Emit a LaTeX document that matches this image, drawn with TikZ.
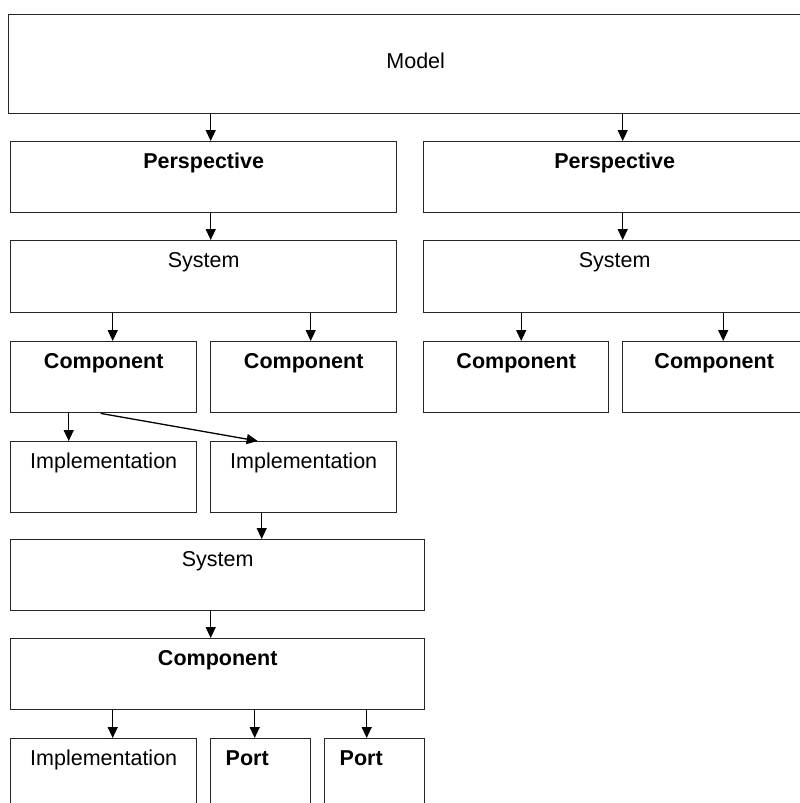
\documentclass[tikz,border=0pt]{standalone}
\usepackage{fontspec}
\setmainfont{Liberation Sans}
\usepackage{tikz}
\usetikzlibrary{arrows.meta,positioning,calc}

\begin{document}
\begin{tikzpicture}[x=1pt,y=-1pt,
                unit/.style={draw=black!85,line width=1.4pt,inner sep=0pt,anchor=north west,
                             align=center,font=\fontsize{21.5}{26}\selectfont,text height=27pt,text depth=44pt},
                arr/.style={-{Triangle[length=11pt,width=10pt]},line width=1.3pt}
            ]
                \useasboundingbox (0,0) rectangle (800,803);
                \clip (0,0) rectangle (800,803);
                % top level
                \node[unit,text width=814pt,text height=54pt,text depth=45pt] (model) at (8,14) {Model};
                \node[unit,text width=386pt] (pl) at (10,141) {\textbf{Perspective}};
                \node[unit,text width=382pt] (pr) at (423,141) {\textbf{Perspective}};
                \node[unit,text width=386pt,text depth=45pt] (sl) at (10,240) {System};
                \node[unit,text width=382pt,text depth=45pt] (sr) at (423,240) {System};
                \node[unit,text width=186pt] (c1) at (10,341) {\textbf{Component}};
                \node[unit,text width=186pt] (c2) at (210,341) {\textbf{Component}};
                \node[unit,text width=185pt] (c3) at (423,341) {\textbf{Component}};
                \node[unit,text width=183pt] (c4) at (622,341) {\textbf{Component}};
                % nested system
                \node[unit,text width=186pt] (i1) at (10,441) {Implementation};
                \node[unit,text width=186pt] (i2) at (210,441) {Implementation};
                \node[unit,text width=414pt] (s3) at (10,539) {System};
                \node[unit,text width=414pt] (c5) at (10,638) {\textbf{Component}};
                \node[unit,text width=186pt] (b1) at (10,738) {Implementation};
                \node[unit,text width=100pt,align=left] (p1) at (210,738) {\hspace*{15pt}\textbf{Port}};
                \node[unit,text width=100pt,align=left] (p2) at (324,738) {\hspace*{15pt}\textbf{Port}};
                % connectors
                \foreach \a/\b/\dx in {model/pl/7,model/pr/8,pl/sl/7,pr/sr/8,
                                       sl/c1/9,sl/c2/7,sr/c3/5,sr/c4/9,
                                       c1/i1/-35,i2/s3/44,s3/c5/-7,
                                       c5/b1/9,c5/p1/-6,c5/p2/-8}
                    \draw[arr] ([xshift=\dx]\b.north |- \a.south) -- ([xshift=\dx]\b.north);
                \draw[arr] ([xshift=-3]c1.south) -- ([xshift=-46]i2.north);
            \end{tikzpicture}
\end{document}
